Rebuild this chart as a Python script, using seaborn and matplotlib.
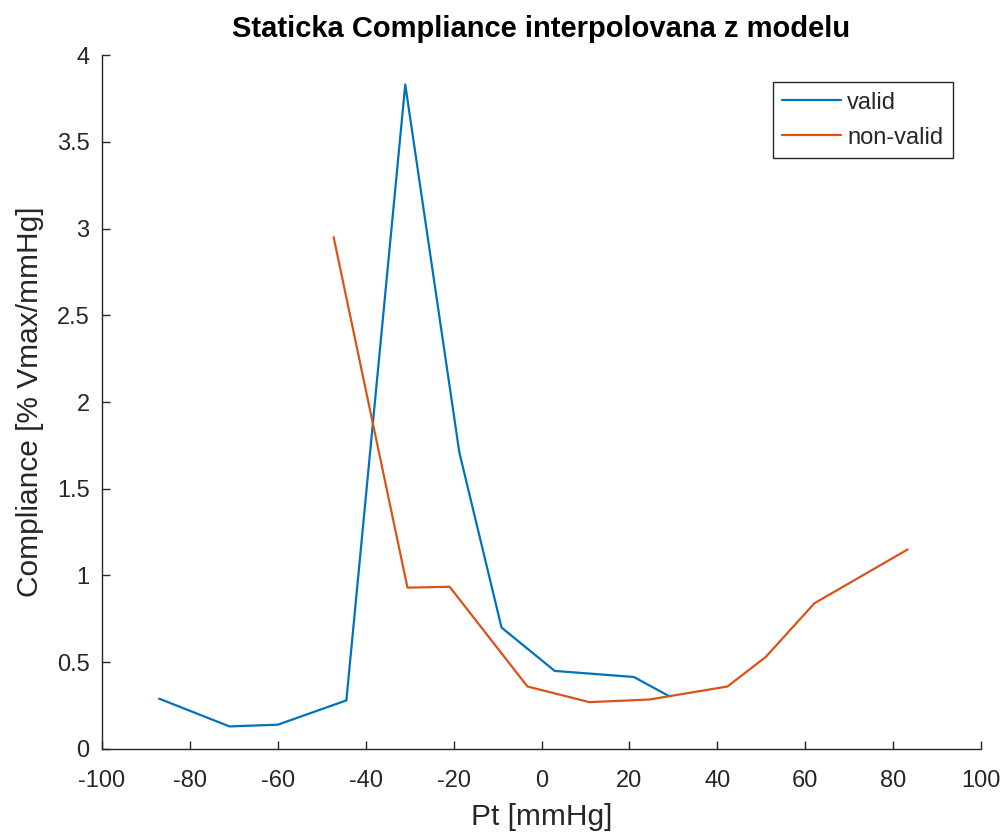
import matplotlib
matplotlib.use("Agg")
import matplotlib.pyplot as plt
from matplotlib.ticker import FuncFormatter, MultipleLocator
import seaborn as sns
import pandas as pd

# Transpulmonary pressure [mmHg] and static compliance [% Vmax/mmHg]
valid_pt = [-87.0, -71.0, -60.0, -44.4, -31.0, -18.7, -9.1, 3.0, 21.0, 29.0]
valid_c = [0.29, 0.13, 0.14, 0.28, 3.83, 1.71, 0.70, 0.45, 0.415, 0.305]

nonvalid_pt = [-47.3, -30.5, -20.9, -3.2, 10.9, 24.5, 42.3, 51.0, 62.1, 83.3]
nonvalid_c = [2.95, 0.93, 0.935, 0.36, 0.27, 0.285, 0.36, 0.53, 0.84, 1.15]

series_names = ["valid", "non-valid"]
palette = {"valid": "#0072BD", "non-valid": "#D95319"}

df = pd.concat([
    pd.DataFrame({"Pt": valid_pt, "C": valid_c, "series": series_names[0]}),
    pd.DataFrame({"Pt": nonvalid_pt, "C": nonvalid_c, "series": series_names[1]}),
], ignore_index=True)

sns.set_theme(style="white")
plt.rcParams["font.family"] = ["Liberation Sans", "DejaVu Sans"]

fig = plt.figure(figsize=(10.07, 8.39), dpi=100)
ax = fig.add_axes([0.1013, 0.1073, 0.8729, 0.8271])

sns.lineplot(data=df, x="Pt", y="C", hue="series", palette=palette,
             estimator=None, sort=False, linewidth=1.6, ax=ax)

ax.set_xlim(-100, 100)
ax.set_ylim(0, 4)
ax.xaxis.set_major_locator(MultipleLocator(20))
ax.yaxis.set_major_locator(MultipleLocator(0.5))
fmt = FuncFormatter(lambda v, p: f"{v:g}")
ax.xaxis.set_major_formatter(fmt)
ax.yaxis.set_major_formatter(fmt)

dark = "#262626"
for side in ["top", "right"]:
    ax.spines[side].set_visible(False)
for side in ["left", "bottom"]:
    ax.spines[side].set_color(dark)
    ax.spines[side].set_linewidth(1.0)

ax.tick_params(axis="both", direction="in", length=6, width=1.0,
               colors=dark, labelsize=17, labelcolor="#262626",
               bottom=True, left=True)
ax.tick_params(axis="x", pad=15)
ax.tick_params(axis="y", pad=9)

ax.set_xlabel("Pt [mmHg]", fontsize=21.5, color=dark, labelpad=8)
ax.set_ylabel("Compliance [% Vmax/mmHg]", fontsize=21.5, color=dark, labelpad=9)
ax.set_title("Staticka Compliance interpolovana z modelu", fontsize=21,
             fontweight="bold", color="black", pad=13)

leg = ax.legend(loc="upper right", bbox_to_anchor=(0.968, 0.961), fontsize=17,
                frameon=True, fancybox=False, edgecolor=dark, framealpha=1,
                handlelength=2.5, handletextpad=0.25, borderpad=0.4,
                labelspacing=0.55, borderaxespad=0)
leg.get_frame().set_linewidth(1.0)
for line in leg.get_lines():
    line.set_linewidth(1.6)

fig.savefig("out.png", dpi=100)
